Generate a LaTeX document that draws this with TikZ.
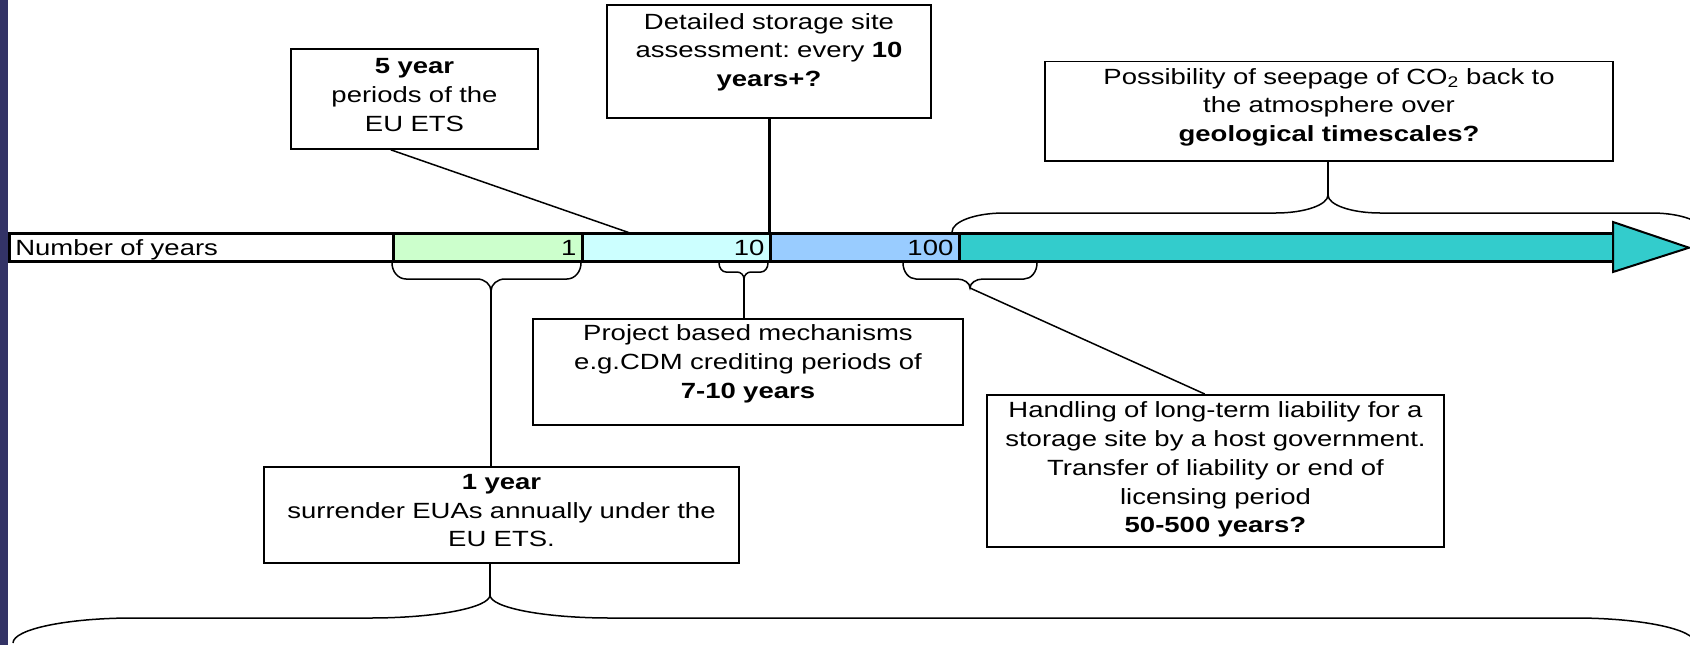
\documentclass[tikz,border=0pt]{standalone}
\usepackage{fontspec}
\setmainfont{Liberation Sans}[FakeStretch=1.25]
\frenchspacing
\definecolor{navy}{RGB}{51,51,102}
\definecolor{mint}{RGB}{204,255,204}
\definecolor{ice}{RGB}{204,255,255}
\definecolor{sky}{RGB}{153,204,255}
\definecolor{longc}{RGB}{51,204,204}

% brace: tip name, left x, tip x, right x, base y, mid y, tip y, corner radius
\newcommand{\tbrace}[8]{%
  \draw[brace] (#2,#5) .. controls (#2,{#5+0.55*(#6-#5)}) and ({#2+0.45*#8},#6) .. ({#2+#8},#6)
    -- ({#3-#8},#6) .. controls ({#3-0.45*#8},#6) and (#3,{#7-0.55*(#7-#6)}) .. (#3,#7)
    .. controls (#3,{#7-0.55*(#7-#6)}) and ({#3+0.45*#8},#6) .. ({#3+#8},#6)
    -- ({#4-#8},#6) .. controls ({#4-0.45*#8},#6) and (#4,{#5+0.55*(#6-#5)}) .. (#4,#5);
  \coordinate (#1) at (#3,#7);}

\tikzset{
  seg/.style={draw, line width=2.7pt, minimum height=28pt, inner xsep=6pt, inner ysep=0pt,
    text height=15.8pt, text depth=0pt, text width={(#1-12)*1pt}, align=right, anchor=west},
  box/.style={draw, line width=1.8pt, fill=white, inner sep=0pt, align=center, anchor=north},
  lead/.style={line width=1.5pt},
  brace/.style={line width=1.5pt}
}

\begin{document}
\begin{tikzpicture}[x=1pt, y=-1pt, font=\fontsize{22}{28.8}\selectfont]
    \useasboundingbox (0,0) rectangle (1690,645);
    \clip (0,0) rectangle (1690,645);
    \fill[navy] (0,0) rectangle (7.5,645);

    % time axis
    \node[seg=384, align=left] (yrs) at (8,247.7) {Number of years};
    \node[seg=189, fill=mint] (yr1) at (392,247.7) {1};
    \node[seg=188, fill=ice] (yr10) at (581,247.7) {10};
    \node[seg=189, fill=sky] (yr100) at (769,247.7) {100};
    \node[seg=655, fill=longc] (yrlong) at (958,247.7) {};
    \draw[fill=longc, line width=2pt] (1613,222) -- (1689,247.7) -- (1613,272) -- cycle;
    \coordinate (c5) at (630,233);

    % braces
    \tbrace{tip1}{392}{491}{581}{263}{279}{291}{14}
    \tbrace{tip2}{719}{744}{768}{263}{272}{279}{7}
    \tbrace{tip3}{903}{970}{1037}{263}{279}{288}{13}
    \tbrace{tip4}{952}{1328}{1704}{232}{213}{195}{52}
    \tbrace{tip5}{13}{490}{1695}{643}{618}{595}{120}

    % callouts
    \node[box, text width=247pt, text height=24.7pt, text depth=75.3pt] (eu5) at (414.5,48)
        {\textbf{5 year}\\periods of the\\EU ETS};
    \node[box, text width=324pt, text height=24.3pt, text depth=88.7pt] (assess) at (769,4)
        {Detailed storage site\\assessment: every \textbf{10}\\\textbf{years+?}};
    \node[box, text width=568pt, text height=22.8pt, text depth=76.7pt] (seep) at (1329,60.5)
        {Possibility of seepage of CO\textsubscript{2} back to\\the atmosphere over\\\textbf{geological timescales?}};
    \node[box, text width=430pt, text height=22pt, text depth=84pt] (cdm) at (748,318)
        {Project based mechanisms\\e.g.CDM crediting periods of\\\textbf{7-10 years}};
    \node[box, text width=475pt, text height=22.3pt, text depth=73.7pt] (euyear) at (501.5,466)
        {\textbf{1 year}\\surrender EUAs annually under the\\EU ETS.};
    \node[box, text width=457pt, text height=22.7pt, text depth=129.3pt] (liab) at (1215.5,394)
        {Handling of long-term liability for a\\storage site by a host government.\\Transfer of liability or end of\\licensing period\\\textbf{50-500 years?}};

    \draw[lead] (eu5.245) -- (c5);
    \draw[line width=3pt] (assess.south) -- (assess.south |- yr10.north);
    \draw[lead] (seep.south -| tip4) -- (tip4);
    \draw[lead] (tip2) -- (tip2 |- cdm.north);
    \draw[lead] (tip1) -- (tip1 |- euyear.north);
    \draw[lead] (tip5 |- euyear.south) -- (tip5);
    \draw[lead] (tip3) -- (liab.98);
\end{tikzpicture}
\end{document}
